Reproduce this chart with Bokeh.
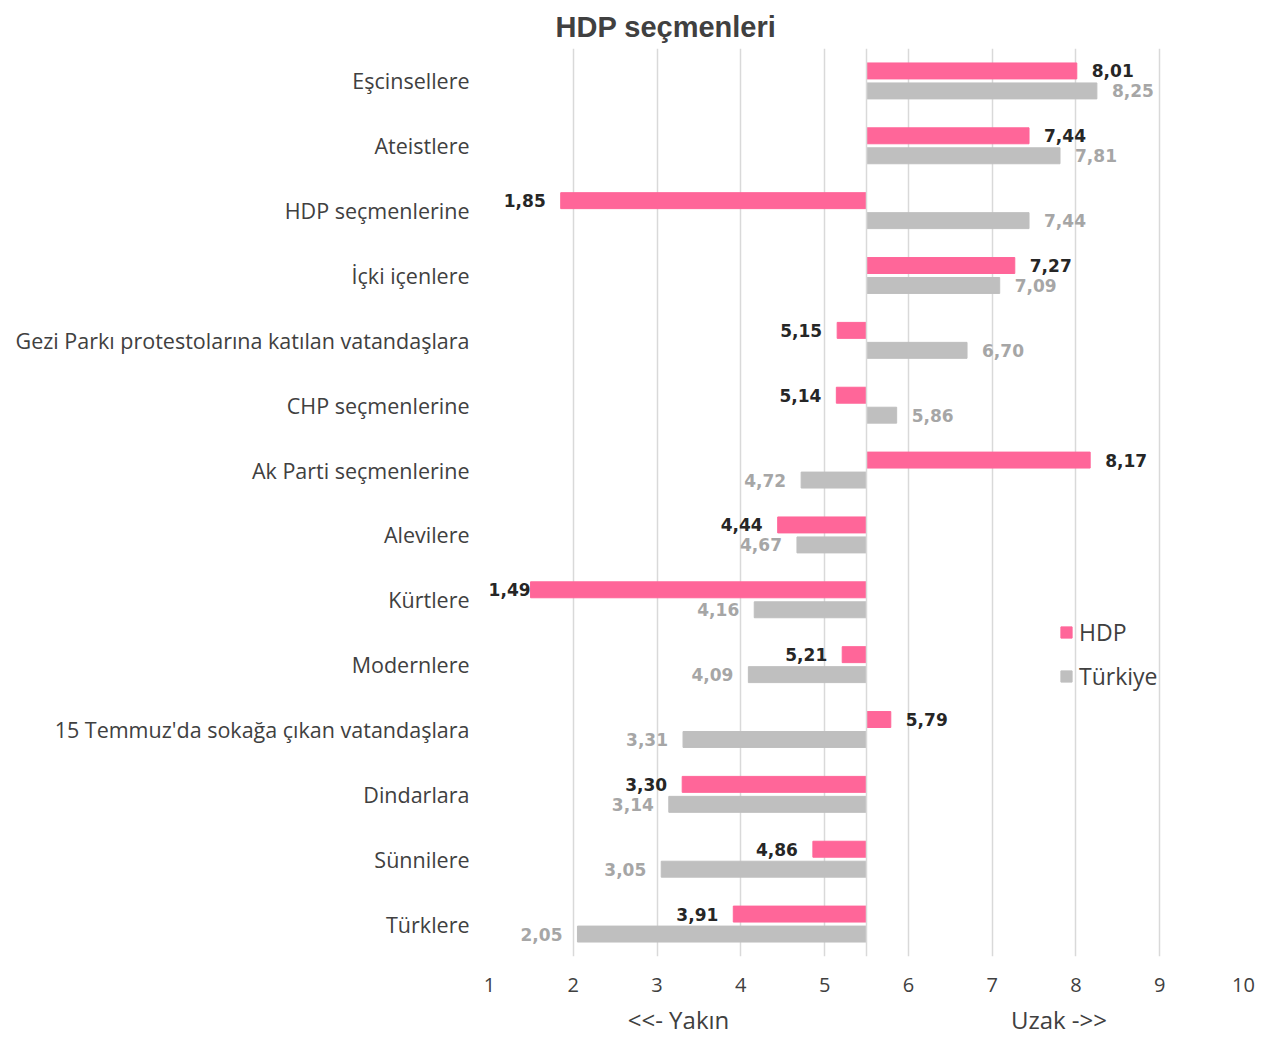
from bokeh.plotting import figure
from bokeh.models import (FactorRange, Range1d, FixedTicker, Legend, LegendItem,
                          Span, ColumnDataSource, LinearAxis)
from bokeh.transform import dodge
from bokeh.core.properties import value
from bokeh.embed import file_html
from bokeh.resources import INLINE

categories = ["Eşcinsellere", "Ateistlere", "HDP seçmenlerine", "İçki içenlere",
              "Gezi Parkı protestolarına katılan vatandaşlara", "CHP seçmenlerine",
              "Ak Parti seçmenlerine", "Alevilere", "Kürtlere", "Modernlere",
              "15 Temmuz'da sokağa çıkan vatandaşlara", "Dindarlara", "Sünnilere", "Türklere"]
hdp = [8.01, 7.44, 1.85, 7.27, 5.15, 5.14, 8.17, 4.44, 1.49, 5.21, 5.79, 3.30, 4.86, 3.91]
turkiye = [8.25, 7.81, 7.44, 7.09, 6.70, 5.86, 4.72, 4.67, 4.16, 4.09, 3.31, 3.14, 3.05, 2.05]
x_ticks = [1, 2, 3, 4, 5, 6, 7, 8, 9, 10]
center_value = 5.5
series_names = ["HDP", "Türkiye"]
title_text = "HDP seçmenleri"
direction_labels = ["<<- Yakın", "Uzak ->>"]

PINK = "#FF6699"
GRAY = "#BFBFBF"
GRID = "#D9D9D9"
TXT = "#404040"
FONT = "Open Sans"


def fmt(v):
    return f"{v:.2f}".replace(".", ",")


def label_cols(vals):
    aligns, offs = [], []
    for v in vals:
        if v >= center_value:
            aligns.append("left")
            offs.append(15)
        else:
            aligns.append("right")
            offs.append(0 if v < 1.7 else -15)
    return aligns, offs


ha, ho = label_cols(hdp)
ta, to = label_cols(turkiye)
src = ColumnDataSource(dict(
    cat=categories, hdp=hdp, tr=turkiye,
    hdp_txt=[fmt(v) for v in hdp], tr_txt=[fmt(v) for v in turkiye],
    ha=ha, ho=ho, ta=ta, to=to,
))

p = figure(width=1268, height=1038, output_backend="svg", toolbar_location=None,
           x_range=Range1d(x_ticks[0], x_ticks[-1]),
           y_range=FactorRange(factors=list(reversed(categories))),
           min_border_left=489, min_border_right=25, min_border_top=48,
           min_border_bottom=81, title=title_text)
p.outline_line_color = None
p.background_fill_color = "white"

p.title.align = "left"
p.title.offset = 66
p.title.text_font = "Liberation Sans"
p.title.text_font_style = "bold"
p.title.text_font_size = "29px"
p.title.text_color = TXT
p.title.standoff = 12

DY = 0.154
BH = 0.246
r_hdp = p.hbar(y=dodge("cat", DY, range=p.y_range), left=center_value, right="hdp",
               height=BH, color=PINK, source=src)
r_tr = p.hbar(y=dodge("cat", -DY, range=p.y_range), left=center_value, right="tr",
              height=BH, color=GRAY, source=src)

p.text(x="hdp", y=dodge("cat", DY, range=p.y_range), text="hdp_txt", source=src,
       text_align="ha", x_offset="ho", text_baseline="middle",
       text_font=value("DejaVu Sans"), text_font_style="bold",
       text_font_size="17px", text_color="#262626")
p.text(x="tr", y=dodge("cat", -DY, range=p.y_range), text="tr_txt", source=src,
       text_align="ta", x_offset="to", text_baseline="middle",
       text_font=value("DejaVu Sans"), text_font_style="bold",
       text_font_size="17px", text_color="#A6A6A6")

p.add_layout(Span(location=center_value, dimension="height", line_color=GRID,
                  line_width=1.5))

# axes
p.xaxis.ticker = FixedTicker(ticks=x_ticks)
p.xaxis.axis_line_color = None
p.xaxis.major_tick_line_color = None
p.xaxis.minor_tick_line_color = None
p.xaxis.major_tick_out = 0
p.xaxis.major_label_text_font = FONT
p.xaxis.major_label_text_font_size = "20px"
p.xaxis.major_label_text_color = TXT
p.xaxis.major_label_standoff = 21

dir_pos = [3.256, 7.797]
dir_axis = LinearAxis(ticker=FixedTicker(ticks=dir_pos),
                      major_label_overrides={dir_pos[0]: direction_labels[0],
                                             dir_pos[1]: direction_labels[1]},
                      axis_line_color=None, major_tick_line_color=None,
                      minor_tick_line_color=None, major_tick_out=0,
                      major_label_standoff=8,
                      major_label_text_font=FONT,
                      major_label_text_font_size="24px",
                      major_label_text_color=TXT)
p.add_layout(dir_axis, "below")

p.yaxis.axis_line_color = None
p.yaxis.major_tick_line_color = None
p.yaxis.minor_tick_line_color = None
p.yaxis.major_tick_out = 0
p.yaxis.major_label_text_font = FONT
p.yaxis.major_label_text_font_size = "21.5px"
p.yaxis.major_label_text_color = TXT
p.yaxis.major_label_standoff = 20

p.xgrid.ticker = FixedTicker(ticks=x_ticks)
p.xgrid.grid_line_color = GRID
p.xgrid.grid_line_width = 1.5
p.ygrid.grid_line_color = None

legend = Legend(items=[LegendItem(label=series_names[0], renderers=[r_hdp]),
                       LegendItem(label=series_names[1], renderers=[r_tr])],
                location=(570, 264), orientation="vertical",
                glyph_width=14, glyph_height=14, label_height=26, spacing=12,
                label_standoff=6, padding=0, margin=0,
                border_line_color=None, background_fill_alpha=0,
                label_text_font=FONT, label_text_font_size="23px",
                label_text_color=TXT)
p.add_layout(legend)

open("out.html", "w").write(file_html(p, INLINE))
